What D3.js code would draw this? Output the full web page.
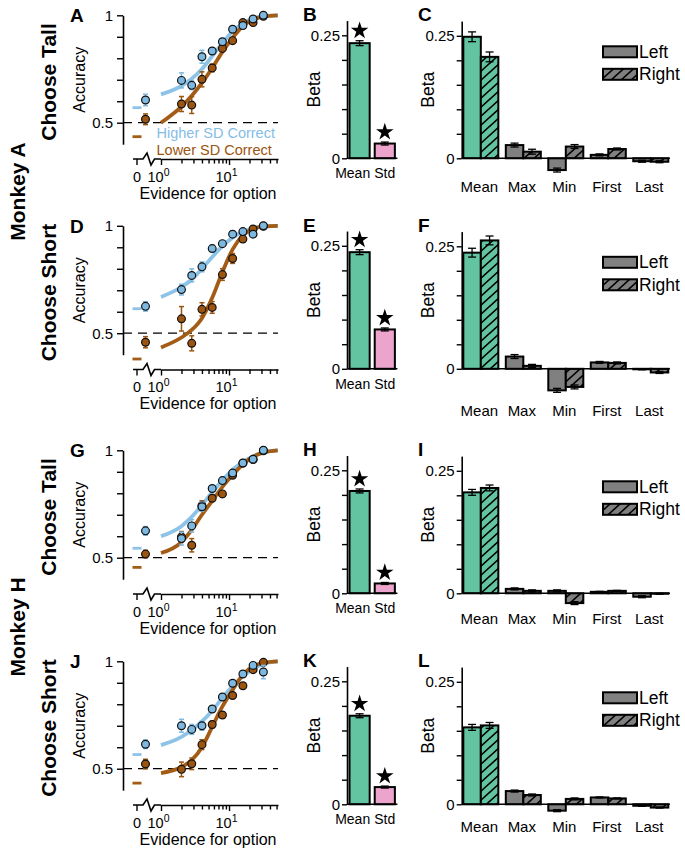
<!DOCTYPE html>
<html><head><meta charset="utf-8">
<script src="https://cdn.jsdelivr.net/npm/d3@7"></script>
<style>
body{margin:0;background:#fff}
svg{display:block}
text{font-family:"Liberation Sans",Arial,sans-serif}
</style>
</head><body>
<svg id="fig" width="685" height="857"></svg>
<script>
// ---------------- DATA ----------------
const evidenceX = [2, 2.83, 4, 5.66, 8, 11.3, 16, 22.6, 32];
const curveX = [1, 2, 2.83, 4, 5.66, 8, 11.3, 16, 22.6, 32, 52];
const xMajorTicks = [1, 10];
const xMinorTicks = [2, 3, 4, 5, 6, 7, 8, 9, 20, 30, 40, 50];
const accTicks = [0.5, 0.6, 0.7, 0.8, 0.9, 1];
const betaTicks = [0, 0.05, 0.1, 0.15, 0.2, 0.25];
const seriesNames = ["Higher SD Correct", "Lower SD Correct"];
const betaCats2 = ["Mean", "Std"];
const betaCats5 = ["Mean", "Max", "Min", "First", "Last"];
const sideNames = ["Left", "Right"];
const rowTitles = ["Choose Tall", "Choose Short", "Choose Tall", "Choose Short"];
const monkeyNames = ["Monkey A", "Monkey H"];
const panelLetters = [["A", "B", "C"], ["D", "E", "F"], ["G", "H", "I"], ["J", "K", "L"]];

// Panel A
const aHigh = [0.697, 0.674, 0.807, 0.834, 0.877, 0.935, 0.952, 0.983, 1.0];
const aHighErr = [0.035, 0.02, 0.03, 0.015, 0.012, 0.01, 0.008, 0.006, 0.003];
const aLow = [0.587, 0.582, 0.702, 0.755, 0.846, 0.882, 0.966, 0.966, 0.995];
const aLowErr = [0.035, 0.039, 0.035, 0.018, 0.014, 0.01, 0.008, 0.006, 0.003];
const aHighFit = [0.632, 0.672, 0.705, 0.75, 0.81, 0.87, 0.925, 0.963, 0.985, 0.996, 1.0];
const aLowFit = [0.50, 0.575, 0.625, 0.685, 0.755, 0.83, 0.895, 0.95, 0.98, 0.994, 1.0];
const aZeroObs = [0.606, 0.516];
const aZeroErr = [0.027, 0.025];
const aZeroModel = [0.570, 0.435];

// Panel D
const dHigh = [0.703, 0.769, 0.809, 0.894, 0.917, 0.961, 0.973, 0.961, 1.0];
const dHighErr = [0.025, 0.03, 0.023, 0.015, 0.012, 0.01, 0.008, 0.01, 0.003];
const dLow = [0.567, 0.453, 0.611, 0.620, 0.773, 0.848, 0.938, 0.985, 0.998];
const dLowErr = [0.057, 0.035, 0.031, 0.027, 0.027, 0.023, 0.015, 0.008, 0.003];
const dHighFit = [0.669, 0.715, 0.75, 0.80, 0.855, 0.905, 0.945, 0.972, 0.988, 0.996, 1.0];
const dLowFit = [0.434, 0.48, 0.515, 0.57, 0.665, 0.785, 0.89, 0.955, 0.985, 0.997, 1.0];
const dZeroObs = [0.625, 0.458];
const dZeroErr = [0.022, 0.026];
const dZeroModel = [0.614, 0.380];

// Panel G
const gHigh = [0.589, 0.648, 0.737, 0.822, 0.859, 0.894, 0.941, 0.958, 1.0];
const gHighErr = [0.03, 0.029, 0.021, 0.012, 0.012, 0.01, 0.008, 0.008, 0.004];
const gLow = [0.597, 0.558, 0.742, 0.777, 0.797, 0.884, 0.94, 0.957, 0.998];
const gLowErr = [0.025, 0.031, 0.023, 0.012, 0.012, 0.01, 0.008, 0.008, 0.004];
const gHighFit = [0.60, 0.647, 0.69, 0.745, 0.805, 0.86, 0.91, 0.945, 0.972, 0.99, 1.0];
const gLowFit = [0.522, 0.573, 0.63, 0.70, 0.765, 0.83, 0.885, 0.935, 0.97, 0.99, 1.0];
const gZeroObs = [0.625, 0.517];
const gZeroErr = [0.02, 0.017];
const gZeroModel = [0.544, 0.455];

// Panel J
const jHigh = [0.70, 0.683, 0.70, 0.778, 0.834, 0.898, 0.941, 0.981, 0.95];
const jHighErr = [0.03, 0.023, 0.021, 0.012, 0.012, 0.01, 0.01, 0.008, 0.031];
const jLow = [0.497, 0.523, 0.612, 0.706, 0.75, 0.841, 0.886, 0.961, 0.995];
const jLowErr = [0.034, 0.027, 0.023, 0.015, 0.012, 0.01, 0.01, 0.008, 0.004];
const jHighFit = [0.61, 0.648, 0.68, 0.72, 0.77, 0.83, 0.885, 0.93, 0.965, 0.988, 1.0];
const jLowFit = [0.48, 0.508, 0.54, 0.60, 0.695, 0.79, 0.867, 0.937, 0.977, 0.993, 1.0];
const jZeroObs = [0.614, 0.522];
const jZeroErr = [0.02, 0.022];
const jZeroModel = [0.566, 0.433];

// Panels B, E, H, K (Mean, Std)
const bBeta = [0.234, 0.030];  const bErr = [0.005, 0.003];
const eBeta = [0.237, 0.080];  const eErr = [0.005, 0.003];
const hBeta = [0.208, 0.020];  const hErr = [0.004, 0.002];
const kBeta = [0.180, 0.035];  const kErr = [0.004, 0.002];

// Panels C, F, I, L (Left / Right per feature)
const cLeft = [0.248, 0.027, -0.024, 0.007, -0.006];
const cLeftErr = [0.01, 0.004, 0.004, 0.002, 0.002];
const cRight = [0.207, 0.0135, 0.024, 0.019, -0.007];
const cRightErr = [0.01, 0.005, 0.004, 0.002, 0.002];

const fLeft = [0.237, 0.025, -0.044, 0.013, -0.001];
const fLeftErr = [0.009, 0.004, 0.004, 0.002, 0.001];
const fRight = [0.262, 0.006, -0.037, 0.012, -0.0075];
const fRightErr = [0.009, 0.003, 0.004, 0.002, 0.002];

const iLeft = [0.206, 0.009, 0.005, 0.003, -0.007];
const iLeftErr = [0.006, 0.002, 0.002, 0.001, 0.002];
const iRight = [0.215, 0.005, -0.02, 0.005, -0.001];
const iRightErr = [0.006, 0.002, 0.003, 0.001, 0.001];

const lLeft = [0.157, 0.027, -0.013, 0.014, -0.003];
const lLeftErr = [0.006, 0.002, 0.002, 0.001, 0.001];
const lRight = [0.161, 0.019, 0.011, 0.012, -0.0067];
const lRightErr = [0.006, 0.002, 0.002, 0.001, 0.001];

// ---------------- STYLE / LAYOUT ----------------
const FONT = '"Liberation Sans", Arial, sans-serif';
const BLUE = "#7db8e1", BROWN = "#9c5511";
const BLUE_FIT = "#8ec3e8", BROWN_FIT = "#a35c16";
const GREEN = "#63c4a2", PINK = "#eca3cc", GRAY = "#808080";
const rowY = [0, 210.5, 435, 646];
const catLabelOffset = [28.5, 42, 26, 22.5];

const svg = d3.select("#fig");
const defs = svg.append("defs");
const pat = defs.append("pattern").attr("id", "hatch").attr("patternUnits", "userSpaceOnUse")
  .attr("width", 10).attr("height", 9);
pat.append("path").attr("d", "M-1,1 L1,-1 M0,9 L10,0 M9,10 L11,8")
  .attr("stroke", "#000").attr("stroke-width", 1.6);

function styleAxis(sel, fs) {
  sel.attr("font-family", FONT).attr("font-size", fs);
  sel.selectAll("path.domain").attr("stroke", "#000").attr("stroke-width", 1.6);
  sel.selectAll(".tick line").attr("stroke", "#000").attr("stroke-width", 1.4);
  sel.selectAll(".tick text").attr("fill", "#000");
}

// ---------------- PSYCHOMETRIC PANELS ----------------
function psychPanel(dy, hi, hiErr, lo, loErr, hiFit, loFit, zeroObs, zeroErr, zeroModel, showLegend) {
  const g = svg.append("g");
  const y = d3.scaleLinear().domain([0.4, 1]).range([144.2 + dy, 15.3 + dy]);
  const x = d3.scaleLog().domain([1, 52.5]).range([161, 278]);
  const xZeroTick = 137, xZeroPt = 145.5, yAxisX = 123, xAxisY = 159 + dy;

  // y axis
  const ya = g.append("g").attr("transform", `translate(${yAxisX},0)`)
    .call(d3.axisLeft(y).tickValues(accTicks)
      .tickFormat(d => d === 1 ? "1" : (Math.abs(d - 0.5) < 1e-9 ? "0.5" : ""))
      .tickSize(6).tickSizeOuter(0).tickPadding(4));
  styleAxis(ya, 15);

  g.append("text").attr("transform", `translate(85,${(y(0.4) + y(1)) / 2}) rotate(-90)`)
    .attr("text-anchor", "middle").attr("font-size", 16).text("Accuracy");

  // x axis (log part)
  const xa = g.append("g").attr("transform", `translate(0,${xAxisY})`)
    .call(d3.axisBottom(x).tickValues(xMajorTicks.concat(xMinorTicks)).tickFormat("").tickSizeOuter(0));
  styleAxis(xa, 14);
  xa.selectAll(".tick line").attr("y2", d => xMajorTicks.includes(d) ? 6 : 4.5);
  // broken part
  g.append("path").attr("d", `M133,${xAxisY} H143 L147,${xAxisY - 6} L151,${xAxisY + 6} L154.5,${xAxisY} H161`)
    .attr("fill", "none").attr("stroke", "#000").attr("stroke-width", 1.6);
  g.append("line").attr("x1", xZeroTick).attr("x2", xZeroTick).attr("y1", xAxisY).attr("y2", xAxisY + 6)
    .attr("stroke", "#000").attr("stroke-width", 1.4);
  g.append("text").attr("x", xZeroTick).attr("y", xAxisY + 22.5).attr("text-anchor", "middle")
    .attr("font-size", 14.5).text("0");
  xMajorTicks.forEach((t, i) => {
    const tx = g.append("text").attr("x", x(t) - 2.5).attr("y", xAxisY + 22.5)
      .attr("text-anchor", "middle").attr("font-size", 14.5).text("10");
    tx.append("tspan").attr("dy", -6).attr("font-size", 10.5).text(String(i));
  });
  g.append("text").attr("x", 208).attr("y", xAxisY + 39.5).attr("text-anchor", "middle")
    .attr("font-size", 16).text("Evidence for option");

  // chance line
  g.append("line").attr("x1", yAxisX).attr("x2", 278).attr("y1", y(0.5)).attr("y2", y(0.5))
    .attr("stroke", "#000").attr("stroke-width", 1.3).attr("stroke-dasharray", "9,6");

  // fits
  const line = d3.line().x(d => x(d[0])).y(d => y(d[1])).curve(d3.curveMonotoneX);
  [[hiFit, BLUE_FIT], [loFit, BROWN_FIT]].forEach(([f, c]) => {
    g.append("path").datum(curveX.map((v, i) => [v, f[i]])).attr("d", line)
      .attr("fill", "none").attr("stroke", c).attr("stroke-width", 3.8);
  });
  // model at zero
  [BLUE_FIT, BROWN_FIT].forEach((c, i) => {
    g.append("line").attr("x1", xZeroTick - 4.5).attr("x2", xZeroTick + 4.5)
      .attr("y1", y(zeroModel[i])).attr("y2", y(zeroModel[i]))
      .attr("stroke", c).attr("stroke-width", 2.8);
  });

  // points with error bars (lower first, higher on top)
  const series = [[lo, loErr, zeroObs[1], zeroErr[1], BROWN], [hi, hiErr, zeroObs[0], zeroErr[0], BLUE]];
  series.forEach(([vals, errs, z, ze, c]) => {
    const pts = evidenceX.map((v, i) => ({ px: x(v), v: vals[i], e: errs[i] }));
    pts.unshift({ px: xZeroPt, v: z, e: ze });
    const eg = g.append("g").attr("stroke", c).attr("stroke-width", 1.5);
    pts.forEach(p => {
      eg.append("line").attr("x1", p.px).attr("x2", p.px).attr("y1", y(p.v - p.e)).attr("y2", y(Math.min(1.03, p.v + p.e)));
      eg.append("line").attr("x1", p.px - 2.5).attr("x2", p.px + 2.5).attr("y1", y(p.v - p.e)).attr("y2", y(p.v - p.e));
      eg.append("line").attr("x1", p.px - 2.5).attr("x2", p.px + 2.5).attr("y1", y(p.v + p.e)).attr("y2", y(p.v + p.e));
    });
    g.append("g").selectAll("circle").data(pts).join("circle")
      .attr("cx", p => p.px).attr("cy", p => y(p.v)).attr("r", 3.9)
      .attr("fill", c).attr("stroke", "#111").attr("stroke-width", 1.2);
  });

  if (showLegend) {
    g.append("text").attr("x", 156.5).attr("y", 138.3 + dy).attr("font-size", 14.5).attr("fill", "#86bde6").text(seriesNames[0]);
    g.append("text").attr("x", 156.5).attr("y", 155 + dy).attr("font-size", 14.5).attr("fill", BROWN).text(seriesNames[1]);
  }
}

// ---------------- BETA PANELS (Mean / Std) ----------------
function star(g, cx, cy) {
  g.append("path").attr("d", d3.symbol(d3.symbolStar).size(95)())
    .attr("transform", `translate(${cx},${cy})`).attr("fill", "#000");
}
function betaYAxis(g, y, ax) {
  const ya = g.append("g").attr("transform", `translate(${ax},0)`)
    .call(d3.axisLeft(y).tickValues(betaTicks)
      .tickFormat(d => d === 0 ? "0" : (Math.abs(d - 0.25) < 1e-9 ? "0.25" : ""))
      .tickSize(5).tickSizeOuter(0).tickPadding(2));
  styleAxis(ya, 15);
  g.append("text").attr("transform", `translate(${ax - 27.5},${(y(0) + y(0.28)) / 2}) rotate(-90)`)
    .attr("text-anchor", "middle").attr("font-size", 17.5).text("Beta");
}
function betaPanel2(dy, vals, errs) {
  const g = svg.append("g");
  const y = d3.scaleLinear().domain([0, 0.28]).range([158.3 + dy, 158.3 + dy - 0.28 * 492]);
  const x = d3.scaleBand().domain(betaCats2).range([347, 397.4]).paddingInner(0.2).paddingOuter(0.1);
  const cols = [GREEN, PINK];
  betaCats2.forEach((c, i) => {
    g.append("rect").attr("x", x(c)).attr("width", x.bandwidth())
      .attr("y", y(vals[i])).attr("height", y(0) - y(vals[i]))
      .attr("fill", cols[i]).attr("stroke", "#000").attr("stroke-width", 2);
    const cx = x(c) + x.bandwidth() / 2;
    const eg = g.append("g").attr("stroke", "#000").attr("stroke-width", 1.3);
    eg.append("line").attr("x1", cx).attr("x2", cx).attr("y1", y(vals[i] - errs[i])).attr("y2", y(vals[i] + errs[i]));
    [-1, 1].forEach(s => eg.append("line").attr("x1", cx - 4).attr("x2", cx + 4)
      .attr("y1", y(vals[i] + s * errs[i])).attr("y2", y(vals[i] + s * errs[i])));
    star(g, cx, y(vals[i] + errs[i]) - 10);
  });
  g.append("line").attr("x1", 347).attr("x2", 397.4).attr("y1", y(0)).attr("y2", y(0))
    .attr("stroke", "#000").attr("stroke-width", 1.6);
  betaYAxis(g, y, 347);
  g.append("text").attr("x", x("Mean") + x.bandwidth() + 0.5).attr("y", y(0) + 20).attr("text-anchor", "end")
    .attr("font-size", 14).text(betaCats2[0]);
  g.append("text").attr("x", x("Std") + x.bandwidth() / 2).attr("y", y(0) + 20).attr("text-anchor", "middle")
    .attr("font-size", 14).text(betaCats2[1]);
}

// ---------------- BETA PANELS (Left / Right features) ----------------
function betaPanel5(dy, left, leftErr, right, rightErr, labOff) {
  const g = svg.append("g");
  const y = d3.scaleLinear().domain([0, 0.28]).range([158.3 + dy, 158.3 + dy - 0.28 * 490]);
  const x0 = d3.scaleBand().domain(betaCats5).range([461.7, 669.9]).paddingInner(0.176).paddingOuter(0.038);
  const x1 = d3.scaleBand().domain(sideNames).range([0, x0.bandwidth()]);
  const sets = [[left, leftErr], [right, rightErr]];
  betaCats5.forEach((c, ci) => {
    sideNames.forEach((s, si) => {
      const v = sets[si][0][ci], e = sets[si][1][ci];
      const bx = x0(c) + x1(s), bw = x1.bandwidth();
      const col = ci === 0 ? GREEN : GRAY;
      const y0 = Math.min(y(0), y(v)), h = Math.abs(y(0) - y(v));
      g.append("rect").attr("x", bx).attr("width", bw).attr("y", y0).attr("height", h).attr("fill", col);
      g.append("rect").attr("x", bx).attr("width", bw).attr("y", y0).attr("height", h)
        .attr("fill", si === 1 ? "url(#hatch)" : "none").attr("stroke", "#000").attr("stroke-width", 2);
      const cx = bx + bw / 2;
      const eg = g.append("g").attr("stroke", "#000").attr("stroke-width", 1.3);
      eg.append("line").attr("x1", cx).attr("x2", cx).attr("y1", y(v - e)).attr("y2", y(v + e));
      [-1, 1].forEach(sg => eg.append("line").attr("x1", cx - 4).attr("x2", cx + 4)
        .attr("y1", y(v + sg * e)).attr("y2", y(v + sg * e)));
    });
    g.append("text").attr("x", x0(c) + x0.bandwidth() / 2 - 1.5).attr("y", y(0) + labOff + 5)
      .attr("text-anchor", "middle").attr("font-size", 15).text(c);
  });
  g.append("line").attr("x1", 461.7).attr("x2", 669.9).attr("y1", y(0)).attr("y2", y(0))
    .attr("stroke", "#000").attr("stroke-width", 1.6);
  betaYAxis(g, y, 461.7);
  // legend
  sideNames.forEach((s, si) => {
    const ly = y(0.25) + 10.5 + si * 22.5;
    g.append("rect").attr("x", 603).attr("y", ly).attr("width", 34).attr("height", 11).attr("fill", GRAY);
    g.append("rect").attr("x", 603).attr("y", ly).attr("width", 34).attr("height", 11)
      .attr("fill", si === 1 ? "url(#hatch)" : "none").attr("stroke", "#000").attr("stroke-width", 2);
    g.append("text").attr("x", 639).attr("y", ly + 11.5).attr("font-size", 17.5).text(s);
  });
}

// ---------------- BUILD ----------------
psychPanel(rowY[0], aHigh, aHighErr, aLow, aLowErr, aHighFit, aLowFit, aZeroObs, aZeroErr, aZeroModel, true);
psychPanel(rowY[1], dHigh, dHighErr, dLow, dLowErr, dHighFit, dLowFit, dZeroObs, dZeroErr, dZeroModel, false);
psychPanel(rowY[2], gHigh, gHighErr, gLow, gLowErr, gHighFit, gLowFit, gZeroObs, gZeroErr, gZeroModel, false);
psychPanel(rowY[3], jHigh, jHighErr, jLow, jLowErr, jHighFit, jLowFit, jZeroObs, jZeroErr, jZeroModel, false);

betaPanel2(rowY[0], bBeta, bErr);
betaPanel2(rowY[1], eBeta, eErr);
betaPanel2(rowY[2], hBeta, hErr);
betaPanel2(rowY[3], kBeta, kErr);

betaPanel5(rowY[0], cLeft, cLeftErr, cRight, cRightErr, catLabelOffset[0]);
betaPanel5(rowY[1], fLeft, fLeftErr, fRight, fRightErr, catLabelOffset[1]);
betaPanel5(rowY[2], iLeft, iLeftErr, iRight, iRightErr, catLabelOffset[2]);
betaPanel5(rowY[3], lLeft, lLeftErr, lRight, lRightErr, catLabelOffset[3]);

// labels
const labG = svg.append("g").attr("font-weight", "bold");
rowY.forEach((dy, r) => {
  labG.append("text").attr("x", 70).attr("y", 22 + dy).attr("font-size", 19).text(panelLetters[r][0]);
  labG.append("text").attr("x", 303).attr("y", 21 + dy).attr("font-size", 19).text(panelLetters[r][1]);
  labG.append("text").attr("x", 418).attr("y", 21 + dy).attr("font-size", 19).text(panelLetters[r][2]);
  labG.append("text").attr("transform", `translate(55.5,${82 + dy}) rotate(-90)`)
    .attr("text-anchor", "middle").attr("font-size", 21).text(rowTitles[r]);
});
labG.append("text").attr("transform", `translate(25,191.5) rotate(-90)`)
  .attr("text-anchor", "middle").attr("font-size", 21).text(monkeyNames[0]);
labG.append("text").attr("transform", `translate(25,627) rotate(-90)`)
  .attr("text-anchor", "middle").attr("font-size", 21).text(monkeyNames[1]);
</script>
</body></html>
